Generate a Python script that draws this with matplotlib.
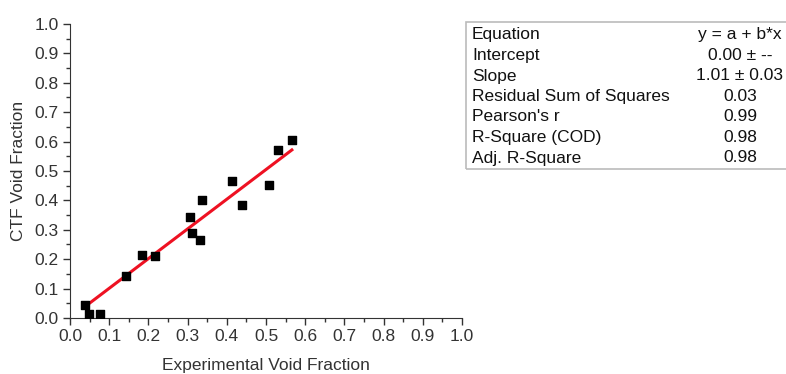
import numpy as np
import matplotlib
matplotlib.use('Agg')
import matplotlib.pyplot as plt
from matplotlib.ticker import MultipleLocator

plt.rcParams['font.family'] = ['Liberation Sans', 'DejaVu Sans']

# measured points
exp_void = [0.038, 0.048, 0.076, 0.143, 0.183, 0.216, 0.306, 0.311, 0.332, 0.336,
            0.412, 0.440, 0.508, 0.531, 0.566]
ctf_void = [0.045, 0.015, 0.015, 0.144, 0.215, 0.212, 0.342, 0.290, 0.266, 0.403,
            0.466, 0.385, 0.451, 0.572, 0.605]

# linear fit results
intercept = 0.0
slope = 1.01

table_labels = ['Equation', 'Intercept', 'Slope', 'Residual Sum of Squares',
                "Pearson's r", 'R-Square (COD)', 'Adj. R-Square']
table_values = ['y = a + b*x', '0.00 \u00b1 --', '1.01 \u00b1 0.03', '0.03',
                '0.99', '0.98', '0.98']

W, H = 786, 374
fs = 12.5
fig = plt.figure(figsize=(W / 100, H / 100), dpi=100)
ax = fig.add_axes([70 / W, 1 - 318 / H, 392 / W, 294 / H])

ax.scatter(exp_void, ctf_void, marker='s', s=30, color='black', zorder=3)
xf = np.linspace(min(exp_void), max(exp_void), 50)
ax.plot(xf, intercept + slope * xf, color='#ee1122', lw=2.2, zorder=2)

ax.set_xlim(0, 1.0)
ax.set_ylim(0, 1.0)
ax.xaxis.set_major_locator(MultipleLocator(0.1))
ax.yaxis.set_major_locator(MultipleLocator(0.1))
ax.xaxis.set_minor_locator(MultipleLocator(0.05))
ax.yaxis.set_minor_locator(MultipleLocator(0.05))
ax.xaxis.set_major_formatter(matplotlib.ticker.FormatStrFormatter('%.1f'))
ax.yaxis.set_major_formatter(matplotlib.ticker.FormatStrFormatter('%.1f'))
ax.tick_params(which='major', direction='out', length=5, width=1, labelsize=fs,
               colors='#333333', pad=3)
ax.tick_params(which='minor', direction='out', length=3, width=1, colors='#333333')
for s in ['top', 'right']:
    ax.spines[s].set_visible(False)
for s in ['left', 'bottom']:
    ax.spines[s].set_color('#333333')
ax.set_xlabel('Experimental Void Fraction', fontsize=fs, color='#333333', labelpad=10)
ax.set_ylabel('CTF Void Fraction', fontsize=fs, color='#333333', labelpad=6)

# fit parameter table
tb = plt.Rectangle((466 / W, 1 - 169 / H), 330 / W, 147 / H, transform=fig.transFigure,
                   fill=False, edgecolor='#bbbbbb', lw=1.2)
fig.add_artist(tb)
for i, (lab, val) in enumerate(zip(table_labels, table_values)):
    y = 1 - (35 + i * 20.5) / H
    fig.text(472 / W, y, lab, fontsize=fs, va='center', ha='left', color='#111111')
    fig.text(740 / W, y, val, fontsize=fs, va='center', ha='center', color='#111111')

fig.savefig('out.png', dpi=100)
